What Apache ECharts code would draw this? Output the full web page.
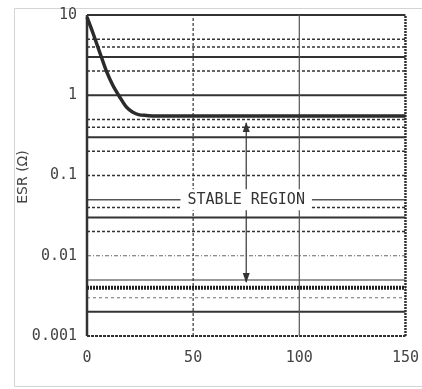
<!DOCTYPE html>
<html>
<head>
<meta charset="utf-8">
<script src="https://cdn.jsdelivr.net/npm/echarts@6/dist/echarts.min.js"></script>
<style>html,body{margin:0;padding:0;background:#fff}#c{width:422px;height:389px}</style>
</head>
<body>
<div id="c"></div>
<script>
// Data
const loadCurrent = [0, 2.8, 6.1, 9.3, 12.1, 15.4, 18.6, 21.4, 24.7, 28, 32, 40, 60, 80, 100, 120, 150];
const esr = [9.4, 5.97, 3.36, 1.95, 1.34, 0.95, 0.71, 0.62, 0.57, 0.56, 0.55, 0.55, 0.55, 0.55, 0.55, 0.55, 0.55];
const xTicks = [0, 50, 100, 150];
const yTickLabels = ['0.001', '0.01', '0.1', '1', '10'];
const gridValues = [10, 5, 4, 3, 2, 1, 0.5, 0.4, 0.3, 0.2, 0.1, 0.05, 0.04, 0.03, 0.02, 0.01, 0.005, 0.003, 0.002, 0.001];
const xGridValues = [0, 50, 100, 150];
const stableLower = [0.004];
const stableArrowX = [75];
const stableUpperArrow = [0.062, 0.45];
const stableLowerArrow = [0.042, 0.0047];
const stableLabel = ['STABLE REGION'];
const yTitle = ['ESR (Ω)'];

const X_MIN = 0, X_MAX = 150, Y_MIN = 0.001, Y_MAX = 10;
const dark = '#333';
function gridStyle(v) {
  const solid = {type: 'solid', color: dark, width: 2};
  const dotted = {type: [3, 2], color: dark, width: 1.5};
  const map = {
    10: solid,
    5: dotted, 4: dotted, 3: solid, 2: dotted, 1: solid,
    0.5: dotted, 0.4: dotted, 0.3: solid, 0.2: dotted, 0.1: dotted,
    0.05: {type: 'solid', color: '#555', width: 1.5},
    0.04: dotted, 0.03: solid, 0.02: dotted,
    0.01: {type: [4, 2, 1, 2], color: '#666', width: 1.2},
    0.005: {type: 'solid', color: '#999', width: 2},
    0.003: {type: [3, 3], color: '#888', width: 1.2},
    0.002: solid,
    0.001: {type: [3, 1], color: dark, width: 2}
  };
  return map[v] || dotted;
}
function xGridStyle(v) {
  const map = {
    0: {type: 'solid', color: dark, width: 2.5},
    50: {type: [3, 2], color: dark, width: 1.2},
    100: {type: 'solid', color: '#555', width: 1.2},
    150: {type: [2, 1], color: dark, width: 2.5}
  };
  return map[v];
}

const series = [];
gridValues.forEach(v => series.push({
  type: 'line', silent: true, z: 1, showSymbol: false, symbol: 'none',
  data: [[X_MIN, v], [X_MAX, v]], lineStyle: gridStyle(v)
}));
stableLower.forEach(v => series.push({
  type: 'line', silent: true, z: 3, showSymbol: false, symbol: 'none',
  data: [[X_MIN, v], [X_MAX, v]], lineStyle: {type: [2, 1], color: '#222', width: 4}
}));
xGridValues.forEach(v => series.push({
  type: 'line', silent: true, z: 2, showSymbol: false, symbol: 'none',
  data: [[v, Y_MIN], [v, Y_MAX]], lineStyle: xGridStyle(v)
}));
// arrows
[stableUpperArrow, stableLowerArrow].forEach(a => series.push({
  type: 'line', silent: true, z: 4, showSymbol: false, symbol: 'none',
  data: [[stableArrowX[0], a[0]], [stableArrowX[0], a[1]]],
  lineStyle: {type: 'solid', color: dark, width: 1.2},
  markPoint: {
    symbol: 'triangle', symbolSize: [7, 10], symbolRotate: a[1] > a[0] ? 0 : 180,
    symbolOffset: [0, a[1] > a[0] ? '40%' : '-40%'],
    itemStyle: {color: dark}, label: {show: false}, animation: false,
    data: [{coord: [stableArrowX[0], a[1]]}]
  }
}));
series.push({
  type: 'line', silent: true, z: 5,
  data: loadCurrent.map((x, i) => [x, esr[i]]),
  showSymbol: false, symbol: 'none', smooth: 0.3,
  lineStyle: {color: '#2b2b2b', width: 3.5}
});
series.push({
  type: 'scatter', silent: true, z: 6, data: [],
  markPoint: {
    symbol: 'circle', symbolSize: 0, animation: false,
    data: [{coord: [stableArrowX[0], 0.05], value: stableLabel[0]}],
    label: {show: true, position: 'inside', formatter: stableLabel[0], color: '#333',
      fontFamily: 'DejaVu Sans Mono', fontSize: 15, backgroundColor: '#fff', padding: [3, 7]}
  }
});

const chart = echarts.init(document.getElementById('c'));
chart.setOption({
  animation: false,
  backgroundColor: '#fff',
  grid: {left: 87, right: 13, top: 15, bottom: 53},
  graphic: [
    {type: 'rect', shape: {x: 14.5, y: 8.5, width: 420, height: 378}, style: {fill: 'none', stroke: '#d4d4d4', lineWidth: 1}, z: -10},
    {type: 'text', x: 23, y: 177, rotation: Math.PI / 2, style: {text: yTitle[0], font: '14px "DejaVu Sans"', fill: '#444', align: 'center', verticalAlign: 'middle'}}
  ],
  xAxis: {
    type: 'value', min: X_MIN, max: X_MAX, interval: 50,
    axisLine: {show: false}, axisTick: {show: false}, splitLine: {show: false},
    axisLabel: {margin: 15, color: '#444', fontFamily: 'DejaVu Sans Mono', fontSize: 15,
      formatter: v => xTicks.includes(v) ? String(v) : ''}
  },
  yAxis: {
    type: 'log', logBase: 10, min: Y_MIN, max: Y_MAX,
    axisLine: {show: false}, axisTick: {show: false}, splitLine: {show: false}, minorSplitLine: {show: false},
    axisLabel: {margin: 10, color: '#444', fontFamily: 'DejaVu Sans Mono', fontSize: 15,
      formatter: (v, i) => yTickLabels[i]}
  },
  series: series
});
</script>
</body>
</html>
